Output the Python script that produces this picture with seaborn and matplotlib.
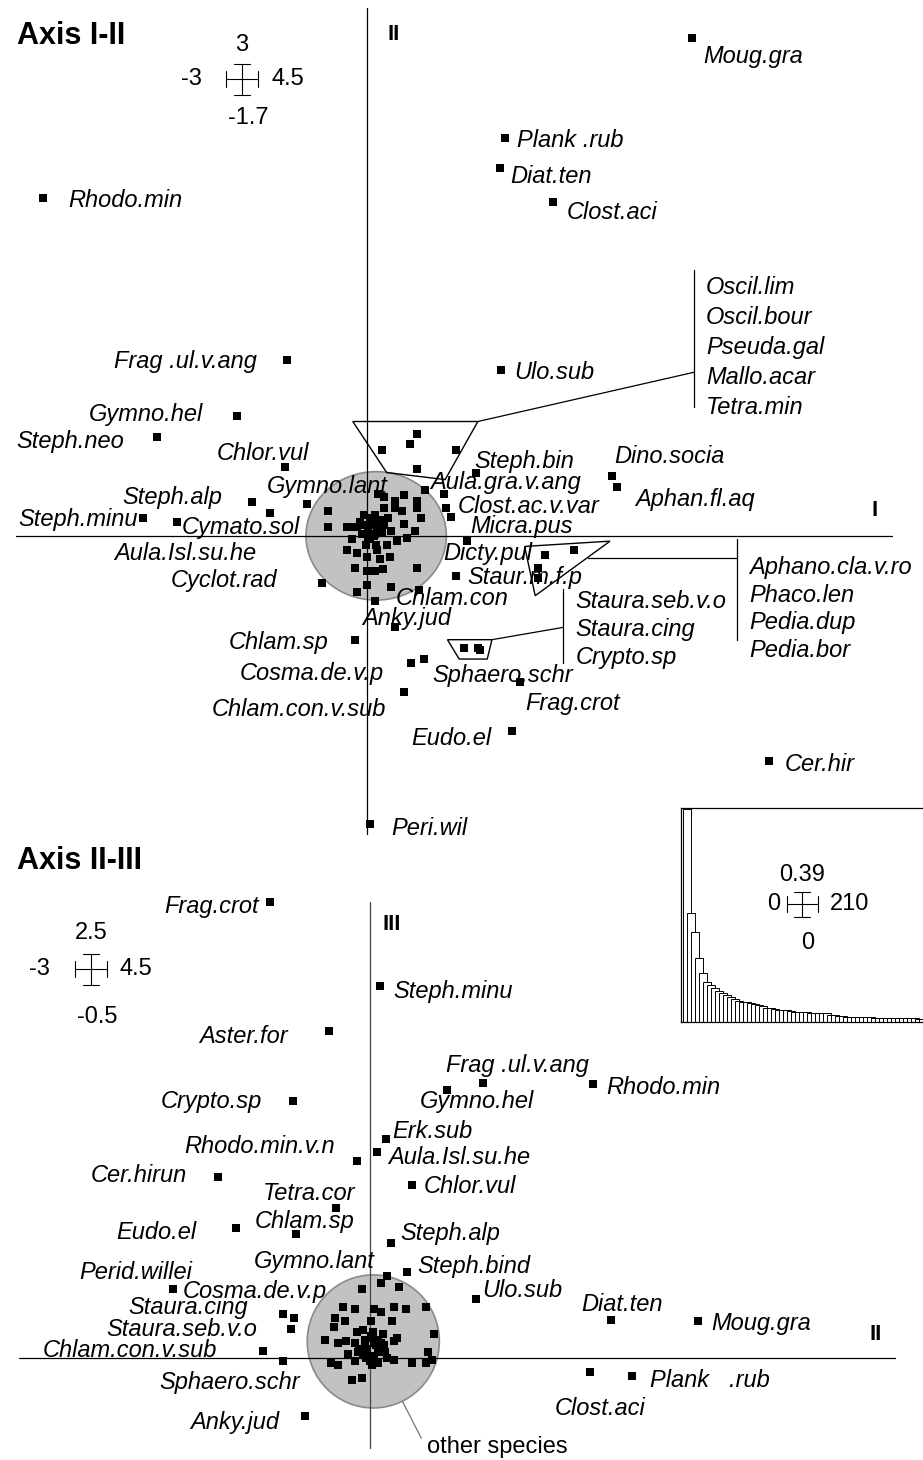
import matplotlib
matplotlib.use("Agg")
import matplotlib.pyplot as plt
from matplotlib.patches import Ellipse, Polygon
import numpy as np
import pandas as pd
import seaborn as sns

sns.set_theme(style="white")
plt.rcParams["font.family"] = ["Liberation Sans", "DejaVu Sans"]
plt.rcParams["text.color"] = "black"

W, H, DPI = 923, 1460, 100
PT = 72.0 / DPI  # points per pixel

# ---------------------------------------------------------------------------
# Axis I-II : labelled species scores
# ---------------------------------------------------------------------------
sp12_names = ["Moug.gra", "Plank .rub", "Diat.ten", "Clost.aci", "Rhodo.min",
              "Frag .ul.v.ang", "Ulo.sub", "Gymno.hel", "Steph.neo", "Chlor.vul",
              "Steph.alp", "Gymno.lant", "Steph.minu", "Cymato.sol", "Aula.Isl.su.he",
              "Cyclot.rad", "Chlam.sp", "Cosma.de.v.p", "Chlam.con.v.sub", "Sphaero.schr",
              "Frag.crot", "Eudo.el", "Peri.wil", "Cer.hir", "Steph.bin",
              "Aula.gra.v.ang", "Clost.ac.v.var", "Micra.pus", "Dicty.pul", "Staur.m.f.p",
              "Chlam.con", "Anky.jud", "Dino.socia", "Aphan.fl.aq"]
sp12_ax1 = [2.78, 1.18, 1.14, 1.59, -2.77, -0.68, 1.15, -1.11, -1.79, -0.70,
            -0.98, -0.51, -1.91, -1.62, -0.83, -0.38, -0.10, 0.38, 0.32, 0.49,
            1.31, 1.24, 0.03, 3.44, 0.93, 0.66, 0.68, 0.72, 0.86, 0.76,
            0.45, 0.24, 2.10, 2.14]
sp12_ax2 = [2.83, 2.26, 2.09, 1.90, 1.92, 1.00, 0.94, 0.68, 0.56, 0.39,
            0.19, 0.18, 0.10, 0.08, 0.13, -0.27, -0.59, -0.72, -0.89, -0.70,
            -0.83, -1.11, -1.64, -1.28, 0.36, 0.24, 0.16, 0.11, -0.03, -0.23,
            -0.31, -0.52, 0.34, 0.28]

# unlabelled species close to the origin ("other species")
oth12_ax1 = [0.50, -0.33, -0.33, -0.17, -0.12, 0.10, 0.15, 0.32, 0.24, 0.43,
             0.43, 0.15, 0.24, 0.30, 0.46, 0.32, 0.41, 0.34, 0.26, 0.17,
             -0.17, -0.08, 0.00, 0.09, 0.11, 0.20, -0.10, 0.00, 0.07, 0.14,
             0.43, 0.00, -0.08, 0.21, 0.07,
             -0.02, 0.03, 0.07, 0.11, 0.04, 0.09, 0.01, -0.06, 0.15, -0.04,
             0.07, 0.13, 0.03, -0.08, 0.18, -0.01, 0.08, -0.13, 0.21,
             0.05, 0.10, -0.03, 0.12, 0.01, 0.06]
oth12_ax2 = [0.26, 0.14, 0.05, 0.05, 0.05, 0.24, 0.22, 0.23, 0.20, 0.20,
             0.16, 0.16, 0.16, 0.14, 0.10, 0.07, 0.03, -0.01, -0.03, -0.05,
             -0.08, -0.10, -0.12, -0.08, -0.13, -0.12, -0.18, -0.20, -0.20, -0.19,
             -0.18, -0.28, -0.32, -0.29, -0.37,
             0.12, 0.10, 0.12, 0.09, 0.06, 0.05, 0.03, 0.08, 0.06, 0.01,
             0.01, 0.02, -0.02, 0.05, 0.10, -0.05, -0.05, -0.02, 0.03,
             0.08, 0.03, 0.06, 0.08, -0.01, 0.00]

# grouped species, enclosed by an outline and listed beside a bracket
grpA_names = ["Oscil.lim", "Oscil.bour", "Pseuda.gal", "Mallo.acar", "Tetra.min"]
grpA_ax1 = [0.43, 0.37, 0.13, 0.76, 0.43]
grpA_ax2 = [0.58, 0.52, 0.49, 0.49, 0.38]
grpA_hull_ax1 = [-0.12, 0.95, 0.67, 0.17]
grpA_hull_ax2 = [0.65, 0.65, 0.32, 0.36]

grpB_names = ["Aphano.cla.v.ro", "Phaco.len", "Pedia.dup", "Pedia.bor"]
grpB_ax1 = [1.52, 1.77, 1.46, 1.46]
grpB_ax2 = [-0.11, -0.08, -0.18, -0.24]
grpB_hull_ax1 = [1.35, 2.08, 1.44]
grpB_hull_ax2 = [-0.06, -0.03, -0.34]

grpC_names = ["Staura.seb.v.o", "Staura.cing", "Crypto.sp"]
grpC_ax1 = [0.83, 0.95, 0.97]
grpC_ax2 = [-0.64, -0.64, -0.65]
grpC_hull_ax1 = [0.69, 1.07, 1.03, 0.79]
grpC_hull_ax2 = [-0.59, -0.59, -0.70, -0.70]

# ---------------------------------------------------------------------------
# Axis II-III : labelled species scores
# ---------------------------------------------------------------------------
sp23_names = ["Frag.crot", "Aster.for", "Crypto.sp", "Steph.minu", "Frag .ul.v.ang",
              "Rhodo.min", "Gymno.hel", "Erk.sub", "Aula.Isl.su.he", "Rhodo.min.v.n",
              "Chlor.vul", "Tetra.cor", "Chlam.sp", "Cer.hirun", "Eudo.el",
              "Steph.alp", "Steph.bind", "Gymno.lant", "Ulo.sub", "Perid.willei",
              "Cosma.de.v.p", "Staura.cing", "Staura.seb.v.o", "Chlam.con.v.sub", "Sphaero.schr",
              "Anky.jud", "Diat.ten", "Moug.gra", "Plank   .rub", "Clost.aci"]
sp23_ax2 = [-0.85, -0.35, -0.66, 0.09, 0.97, 1.91, 0.66, 0.14, 0.06, -0.11,
            0.36, -0.29, -0.63, -1.30, -1.14, 0.18, 0.32, 0.15, 0.91, -1.68,
            -0.65, -0.74, -0.67, -0.91, -0.74, -0.55, 2.06, 2.81, 2.24, 1.88]
sp23_ax3 = [2.50, 1.79, 1.41, 2.04, 1.51, 1.50, 1.47, 1.20, 1.13, 1.08,
            0.95, 0.82, 0.68, 0.99, 0.71, 0.63, 0.47, 0.45, 0.32, 0.38,
            0.22, 0.24, 0.16, 0.04, -0.02, -0.32, 0.21, 0.20, -0.10, -0.08]

oth23_ax2 = [0.10, 0.25, -0.07, -0.23, -0.13, 0.04, 0.21, 0.31, 0.48, -0.30,
             -0.21, 0.01, 0.10, 0.19, -0.31, 0.55, -0.38, -0.27, -0.20, -0.11,
             -0.06, 0.03, 0.11, 0.23, 0.21, -0.13, -0.04, 0.04, 0.12, 0.50,
             0.53, -0.19, -0.10, -0.02, 0.07, 0.15, 0.21, -0.33, -0.27, -0.13,
             0.02, 0.36, 0.48, -0.15, -0.07,
             -0.04, 0.02, 0.07, -0.02, 0.09, -0.09, 0.04, -0.03, 0.13, 0.00, 0.07,
             0.05, -0.06, 0.10, 0.01]
oth23_ax3 = [0.41, 0.39, 0.38, 0.28, 0.27, 0.27, 0.28, 0.27, 0.28, 0.22,
             0.20, 0.20, 0.25, 0.20, 0.17, 0.13, 0.10, 0.08, 0.09, 0.14,
             0.15, 0.14, 0.13, 0.11, 0.09, 0.08, 0.07, 0.08, 0.07, 0.03,
             -0.01, 0.02, 0.03, 0.03, 0.03, 0.00, -0.01, -0.03, -0.04, -0.02,
             -0.04, -0.03, -0.03, -0.12, -0.11,
             0.10, 0.11, 0.10, 0.05, 0.05, 0.05, 0.01, 0.00, 0.03, -0.02, -0.03,
             0.07, 0.02, 0.08, 0.12]

# eigenvalues (screeplot inset), 210 axes in total
eigen = [0.388, 0.199, 0.164, 0.117, 0.089, 0.073, 0.067, 0.062, 0.057, 0.053,
         0.049, 0.046, 0.042, 0.038, 0.037, 0.036, 0.034, 0.033, 0.031, 0.029,
         0.026, 0.025, 0.023, 0.022, 0.022, 0.021, 0.020, 0.019, 0.019, 0.018,
         0.018, 0.017, 0.017, 0.016, 0.016, 0.016, 0.012, 0.012, 0.011, 0.011,
         0.010, 0.010, 0.010, 0.009, 0.009, 0.009, 0.009, 0.008, 0.008, 0.008,
         0.008, 0.008, 0.008, 0.007, 0.007, 0.007, 0.007, 0.007, 0.006, 0.006,
         0.006, 0.006]
n_eigen = 210

# ---------------------------------------------------------------------------
# label placement: (dx, dy) in pixels from the point (dy downwards), alignment
# ---------------------------------------------------------------------------
lay12 = [(11, 19, "left"), (12, 2, "left"), (10, 8, "left"), (14, 11, "left"),
         (25, 2, "left"), (-30, 2, "right"), (13, 2, "left"), (-34, -2, "right"),
         (-33, 4, "right"), (-68, -14, "left"), (-30, -5, "right"), (-40, -18, "left"),
         (-6, 1, "right"), (4, 6, "left"), (-13, 41, "right"), (-45, -3, "right"),
         (-27, 3, "right"), (-27, 11, "right"), (-18, 17, "right"), (8, 16, "left"),
         (5, 22, "left"), (-20, 7, "right"), (21, 4, "left"), (16, 3, "left"),
         (-1, -11, "left"), (-14, -11, "left"), (11, -1, "left"), (19, 10, "left"),
         (-24, 12, "left"), (12, 1, "left"), (-24, 8, "left"), (-33, -9, "left"),
         (2, -20, "left"), (18, 13, "left")]
lay23 = [(-12, 5, "right"), (-41, 5, "right"), (-31, 1, "right"), (13, 6, "left"),
         (-37, -17, "left"), (13, 3, "left"), (-27, 12, "left"), (6, -8, "left"),
         (11, 6, "left"), (-22, -14, "right"), (12, 2, "left"), (19, -15, "right"),
         (58, -12, "right"), (-31, -2, "right"), (-40, 4, "right"), (9, -9, "left"),
         (10, -6, "left"), (-13, -14, "right"), (6, -9, "left"), (19, -16, "right"),
         (33, -26, "right"), (-35, -7, "right"), (-34, 1, "right"), (-46, 0, "right"),
         (17, 21, "right"), (-26, 6, "right"), (-29, -15, "left"), (13, 2, "left"),
         (18, 4, "left"), (-35, 36, "left")]

# bracket layout: connector start, bracket x, bracket top/bottom, connector y,
# first label y, label step (px)
brA = ((0.95, 0.65), 2.80, 1.51, 0.73, 0.93, 1.41, 30.0)
brB = ((1.89, -0.125), 3.17, -0.02, -0.59, -0.125, -0.18, 27.7)
brC = ((1.07, -0.59), 1.68, -0.30, -0.72, -0.52, -0.375, 28.0)

LABEL_FS = 17
INK = "black"
GREY_FILL = "#c2c2c2"
GREY_EDGE = "#8a8a8a"


def rect(x0, y0, x1, y1):
    """pixel box (top-left origin) -> figure-fraction rectangle"""
    return [x0 / W, 1 - y1 / H, (x1 - x0) / W, (y1 - y0) / H]


def points(ax, xs, ys):
    df = pd.DataFrame({"x": xs, "y": ys})
    sns.scatterplot(data=df, x="x", y="y", marker="s", s=27, color=INK,
                    linewidth=0, ax=ax, zorder=4, clip_on=False, legend=False)


def labels(ax, xs, ys, names, layout):
    for x, y, name, (dx, dy, ha) in zip(xs, ys, names, layout):
        ax.annotate(name, (x, y), xytext=(dx * PT, -dy * PT), textcoords="offset points",
                    ha=ha, va="center", fontsize=LABEL_FS, style="italic",
                    color=INK, annotation_clip=False, zorder=5)


def group(ax, xs, ys, hx, hy, names, br):
    points(ax, xs, ys)
    ax.add_patch(Polygon(np.column_stack([hx, hy]), closed=True, fill=False,
                         edgecolor=INK, lw=1.0, zorder=3, clip_on=False))
    (sx, sy), bx, btop, bbot, cy, ly0, step = br
    ax.plot([sx, bx], [sy, cy], color=INK, lw=0.9, zorder=3, clip_on=False)
    ax.plot([bx, bx], [btop, bbot], color=INK, lw=0.9, zorder=3, clip_on=False)
    for i, name in enumerate(names):
        ax.annotate(name, (bx, ly0), xytext=(12 * PT, -i * step * PT),
                    textcoords="offset points", ha="left", va="center",
                    fontsize=LABEL_FS, style="italic", color=INK,
                    annotation_clip=False, zorder=5)


fig = plt.figure(figsize=(W / DPI, H / DPI), dpi=DPI)
fig.patch.set_facecolor("white")

# ---------------- Axis I-II ----------------
ax1 = fig.add_axes(rect(16, 8, 893, 835))
ax1.add_patch(Ellipse((0.08, 0.0), 1.20, 0.73, facecolor=GREY_FILL,
                      edgecolor=GREY_EDGE, lw=1.2, zorder=1))
ax1.axhline(0, color=INK, lw=0.9, zorder=2)
ax1.axvline(0, color=INK, lw=0.9, zorder=2)
points(ax1, oth12_ax1, oth12_ax2)
points(ax1, sp12_ax1, sp12_ax2)
labels(ax1, sp12_ax1, sp12_ax2, sp12_names, lay12)
group(ax1, grpA_ax1, grpA_ax2, grpA_hull_ax1, grpA_hull_ax2, grpA_names, brA)
group(ax1, grpB_ax1, grpB_ax2, grpB_hull_ax1, grpB_hull_ax2, grpB_names, brB)
group(ax1, grpC_ax1, grpC_ax2, grpC_hull_ax1, grpC_hull_ax2, grpC_names, brC)
ax1.set_xlim(-3, 4.5)
ax1.set_ylim(-1.7, 3)
ax1.set_axis_off()

# ---------------- Axis II-III ----------------
ax2 = fig.add_axes(rect(19, 902, 896, 1449))
ax2.add_patch(Ellipse((0.03, 0.09), 1.13, 0.73, facecolor=GREY_FILL,
                      edgecolor=GREY_EDGE, lw=1.2, zorder=1))
ax2.axhline(0, color=INK, lw=0.9, zorder=2)
ax2.axvline(0, color="#444444", lw=0.9, zorder=2)
points(ax2, oth23_ax2, oth23_ax3)
points(ax2, sp23_ax2, sp23_ax3)
labels(ax2, sp23_ax2, sp23_ax3, sp23_names, lay23)
ax2.plot([0.28, 0.44], [-0.24, -0.44], color="#777777", lw=0.9, zorder=3, clip_on=False)
ax2.annotate("other species", (0.44, -0.44), xytext=(6 * PT, -9 * PT),
             textcoords="offset points", ha="left", va="center",
             fontsize=LABEL_FS, color=INK, annotation_clip=False)
ax2.set_xlim(-3, 4.5)
ax2.set_ylim(-0.5, 2.5)
ax2.set_axis_off()

# ---------------- eigenvalue inset ----------------
axe = fig.add_axes(rect(681, 808, 681 + 4 * n_eigen, 1022))
eig_df = pd.DataFrame({"rank": np.arange(1, len(eigen) + 1), "value": eigen})
sns.barplot(data=eig_df, x="rank", y="value", native_scale=True, orient="x",
            width=2.2, color="white", saturation=1, edgecolor=INK, linewidth=0.7,
            errorbar=None, ax=axe)
axe.set_xlim(-0.5, n_eigen - 0.5)
axe.set_ylim(0, 0.39)
axe.set_xticks([])
axe.set_yticks([])
axe.set_xlabel("")
axe.set_ylabel("")
axe.set_facecolor("white")
for side in ("left", "top", "bottom", "right"):
    axe.spines[side].set_visible(True)
    axe.spines[side].set_color(INK)
    axe.spines[side].set_linewidth(0.9)

# ---------------- titles, axis names and scale crosses ----------------
ov = fig.add_axes([0, 0, 1, 1])
ov.set_xlim(0, W)
ov.set_ylim(H, 0)
ov.set_axis_off()


def scale_cross(cx, cy, hw, hh, cap, top, left, right, bottom, ty, by, lx, rx):
    kw = dict(color=INK, lw=0.8)
    ov.plot([cx - hw, cx + hw], [cy, cy], **kw)
    ov.plot([cx, cx], [cy - hh, cy + hh], **kw)
    ov.plot([cx - hw, cx - hw], [cy - cap, cy + cap], **kw)
    ov.plot([cx + hw, cx + hw], [cy - cap, cy + cap], **kw)
    ov.plot([cx - cap, cx + cap], [cy - hh, cy - hh], **kw)
    ov.plot([cx - cap, cx + cap], [cy + hh, cy + hh], **kw)
    tkw = dict(fontsize=LABEL_FS, color=INK, va="center")
    ov.text(cx, ty, top, ha="center", **tkw)
    ov.text(cx + 6, by, bottom, ha="center", **tkw)
    ov.text(lx, cy, left, ha="right", **tkw)
    ov.text(rx, cy, right, ha="left", **tkw)


ov.text(17, 36, "Axis I-II", fontsize=22, fontweight="bold", va="center", ha="left", color=INK)
ov.text(17, 861, "Axis II-III", fontsize=22, fontweight="bold", va="center", ha="left", color=INK)
for x, y, s in [(394, 35, "II"), (875, 510, "I"), (392, 925, "III"), (876, 1335, "II")]:
    ov.text(x, y, s, fontsize=16, fontweight="bold", ha="center", va="center", color=INK)

scale_cross(242, 79, 16, 15.5, 8, "3", "-3", "4.5", "-1.7", 45, 118, 202, 272)
scale_cross(91, 969, 16, 15.5, 8, "2.5", "-3", "4.5", "-0.5", 933, 1017, 50, 119)
scale_cross(802, 904, 15.5, 12.5, 8, "0.39", "0", "210", "0", 875, 943, 780, 830)

fig.savefig("out.png", dpi=DPI, facecolor="white")
